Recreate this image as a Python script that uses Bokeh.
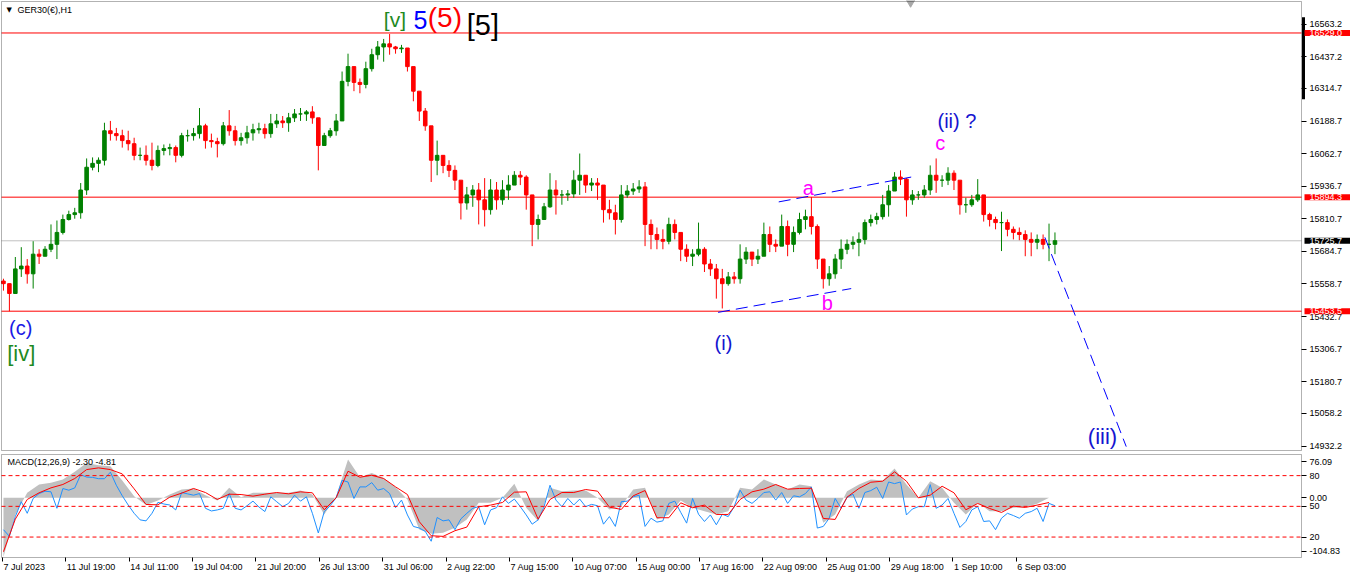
from bokeh.plotting import figure
from bokeh.layouts import column
from bokeh.models import (Range1d, FixedTicker, Label, ColumnDataSource, LinearAxis,
                          BoxAnnotation)
from bokeh.embed import file_html
from bokeh.resources import INLINE

# ---------------- data (GER30 H1, one bar ~ every few hours) ----------------
closes = [
    15560, 15522, 15617, 15628, 15598, 15674, 15666, 15693, 15712, 15758,
    15808, 15827, 15834, 15922, 16010, 16025, 16037, 16151, 16140, 16132,
    16113, 16101, 16056, 16056, 16037, 16017, 16075, 16082, 16086, 16056,
    16132, 16132, 16140, 16170, 16113, 16109, 16101, 16170, 16151, 16113,
    16124, 16143, 16155, 16159, 16140, 16178, 16189, 16182, 16201, 16216,
    16216, 16224, 16201, 16094, 16132, 16151, 16189, 16342, 16399, 16338,
    16330, 16391, 16445, 16475, 16487, 16475, 16468, 16471, 16399, 16304,
    16227, 16170, 16037, 16056, 16017, 15998, 15960, 15872, 15903, 15922,
    15884, 15846, 15922, 15884, 15922, 15941, 15979, 15972, 15903, 15789,
    15808, 15857, 15922, 15903, 15903, 15907, 15960, 15979, 15941, 15949,
    15941, 15846, 15834, 15808, 15903, 15918, 15926, 15934, 15789, 15750,
    15731, 15724, 15789, 15758, 15693, 15666, 15674, 15693, 15636, 15617,
    15579, 15560, 15586, 15579, 15655, 15682, 15655, 15666, 15750, 15712,
    15705, 15781, 15712, 15758, 15808, 15819, 15781, 15655, 15579, 15598,
    15655, 15693, 15712, 15720, 15731, 15796, 15808, 15819, 15865, 15918,
    15972, 15964, 15884, 15903, 15903, 15922, 15979, 15960, 15960, 15987,
    15960, 15865, 15865, 15884, 15903, 15827, 15808, 15796, 15796, 15770,
    15758, 15750, 15731, 15720, 15731, 15712, 15712, 15726]
highs = [
    15579, 15560, 15663, 15701, 15655, 15724, 15693, 15705, 15789, 15804,
    15827, 15842, 15853, 15949, 16044, 16048, 16048, 16182, 16189, 16162,
    16155, 16151, 16124, 16086, 16094, 16105, 16094, 16098, 16101, 16094,
    16143, 16155, 16162, 16239, 16178, 16140, 16124, 16185, 16231, 16170,
    16143, 16170, 16178, 16182, 16178, 16216, 16216, 16208, 16220, 16235,
    16239, 16231, 16246, 16189, 16143, 16162, 16216, 16380, 16449, 16361,
    16353, 16418, 16468, 16498, 16506, 16525, 16479, 16483, 16468, 16380,
    16265, 16239, 16151, 16113, 16056, 16037, 16017, 15941, 15934, 15941,
    15949, 15968, 15964, 15953, 15960, 15979, 15995, 15995, 15979, 15903,
    15827, 15872, 15987, 15960, 15922, 15922, 15998, 16063, 15979, 15968,
    15968, 15922, 15884, 15865, 15941, 15941, 15949, 15960, 15953, 15808,
    15777, 15770, 15815, 15808, 15750, 15712, 15693, 15796, 15701, 15655,
    15636, 15617, 15605, 15605, 15712, 15701, 15666, 15693, 15796, 15781,
    15731, 15827, 15804, 15781, 15834, 15846, 15895, 15789, 15644, 15628,
    15674, 15731, 15731, 15743, 15758, 15808, 15827, 15834, 15903, 15941,
    15991, 15998, 15968, 15922, 15918, 15941, 16017, 16044, 15979, 16010,
    15998, 15941, 15892, 15903, 15964, 15903, 15834, 15819, 15838, 15808,
    15781, 15777, 15766, 15758, 15750, 15750, 15792, 15758]
lows = [
    15533, 15453, 15522, 15586, 15560, 15541, 15636, 15666, 15682, 15655,
    15750, 15804, 15811, 15811, 15903, 15998, 15991, 16017, 16113, 16113,
    16086, 16075, 16037, 16037, 16017, 15998, 16010, 16056, 16056, 16029,
    16048, 16109, 16113, 16121, 16082, 16086, 16048, 16094, 16132, 16094,
    16094, 16101, 16113, 16140, 16121, 16124, 16162, 16162, 16147, 16185,
    16189, 16189, 16178, 15998, 16094, 16124, 16132, 16201, 16323, 16304,
    16296, 16315, 16380, 16426, 16418, 16445, 16449, 16452, 16380, 16265,
    16189, 16151, 15953, 15979, 15987, 15972, 15922, 15808, 15846, 15857,
    15789, 15781, 15827, 15846, 15865, 15884, 15941, 15941, 15846, 15705,
    15731, 15808, 15853, 15827, 15865, 15880, 15892, 15903, 15911, 15918,
    15884, 15796, 15808, 15750, 15796, 15892, 15903, 15911, 15705, 15693,
    15693, 15693, 15712, 15731, 15647, 15644, 15628, 15666, 15605, 15590,
    15502, 15464, 15552, 15560, 15560, 15636, 15628, 15636, 15674, 15682,
    15682, 15712, 15666, 15682, 15750, 15770, 15750, 15617, 15541, 15552,
    15579, 15617, 15674, 15693, 15666, 15712, 15781, 15789, 15808, 15819,
    15934, 15941, 15819, 15865, 15884, 15892, 15903, 15911, 15934, 15941,
    15922, 15827, 15834, 15857, 15876, 15800, 15781, 15770, 15686, 15743,
    15731, 15728, 15666, 15666, 15693, 15693, 15647, 15674]
first_open = 15570

# MACD histogram (grey) and signal (red), sampled every second bar
macd_hist = [
    -104.0, -29.2, 8.8, 23.4, 26.3, 32.1, 45.6, 61.3, 57.2, 55.5,
    30.4, 2.9, -12.8, -4.7, 5.8, 14.6, 16.4, 4.7, -4.7, 17.5,
    1.2, 8.8, 8.8, 8.8, 8.8, 12.8, 5.8, -29.2, 2.9, 67.2,
    36.2, 43.8, 35.0, 18.7, -2.9, -55.5, -63.1, -61.3, -52.6, -38.0,
    -8.8, -8.8, 0.0, 24.5, -17.5, -40.9, 17.5, 11.7, 12.8, 12.8,
    0.0, -20.4, -14.6, 14.6, 17.5, -38.0, -29.2, -4.7, -17.5, -23.4,
    -29.2, -23.4, 17.5, 14.6, 32.1, 23.4, 14.6, 23.4, 20.4, -43.8,
    -29.2, 11.7, 23.4, 32.1, 30.4, 51.4, 23.4, 0.0, 29.2, 17.5,
    -8.8, -29.2, -8.8, -23.4, -23.4, -17.5, -16.4, -10.5, 0.0]
macd_signal = [
    -94.6, -37.4, -2.9, 8.8, 17.5, 23.4, 33.9, 49.6, 52.6, 49.6,
    42.0, 15.8, -11.7, -12.3, 1.2, 8.2, 16.4, 9.3, -2.9, 6.4,
    5.8, 2.9, 6.4, 9.3, 7.0, 10.5, 8.8, -21.0, 0.0, 46.7,
    36.2, 39.7, 33.9, 19.3, 5.8, -42.0, -66.6, -67.7, -57.8, -51.4,
    -15.8, -12.8, -8.2, 9.9, 10.5, -37.4, -2.9, 9.3, 9.3, 14.6,
    11.7, -16.4, -20.4, 3.5, 12.8, -35.0, -35.0, -8.8, -17.5, -12.8,
    -29.2, -29.2, -2.9, 10.5, 15.2, 23.4, 15.2, 16.4, 16.9, -36.2,
    -38.0, 1.2, 16.4, 27.4, 29.2, 45.6, 29.2, 0.0, 4.7, 20.4,
    8.8, -21.0, -9.9, -18.7, -25.7, -14.6, -16.9, -12.8, -8.2]
# blue 0-100 oscillator, one value per bar
osc = [
    27.2, 20.7, 40.0, 54.5, 43.2, 57.7, 62.5, 64.8, 64.2, 48.1,
    67.4, 65.8, 68.0, 80.9, 78.6, 78.3, 77.0, 77.0, 83.4, 70.6,
    60.3, 51.3, 43.2, 36.8, 35.8, 43.2, 53.9, 52.3, 51.3, 46.5,
    63.5, 62.2, 60.9, 62.5, 48.1, 45.5, 46.5, 48.1, 62.5, 48.1,
    46.5, 50.6, 55.1, 49.4, 44.9, 59.3, 54.5, 49.7, 52.9, 60.9,
    55.1, 59.3, 43.2, 24.0, 44.9, 50.6, 58.4, 75.4, 73.8, 57.7,
    69.0, 69.0, 73.2, 65.8, 67.4, 62.5, 48.7, 56.1, 41.6, 30.4,
    28.8, 25.6, 15.9, 39.1, 35.8, 36.8, 27.2, 37.8, 43.2, 48.1,
    49.7, 32.0, 46.5, 48.7, 59.3, 52.9, 57.1, 49.7, 41.6, 32.6,
    36.8, 49.7, 70.6, 56.1, 49.7, 57.7, 51.3, 57.1, 49.7, 51.9,
    50.6, 32.6, 40.0, 30.4, 54.5, 55.1, 59.3, 60.9, 30.4, 38.4,
    34.6, 35.8, 52.9, 55.1, 44.2, 33.6, 57.7, 42.3, 35.2, 41.6,
    32.0, 42.3, 40.0, 49.7, 65.8, 56.1, 52.9, 57.7, 63.5, 64.2,
    56.1, 63.5, 52.9, 60.3, 59.3, 62.5, 69.0, 28.8, 30.4, 38.4,
    57.7, 48.1, 58.7, 61.9, 48.1, 63.5, 65.4, 68.7, 57.7, 73.8,
    72.2, 73.8, 41.6, 47.4, 49.7, 49.7, 71.2, 48.1, 51.3, 57.7,
    43.2, 29.4, 35.2, 46.5, 49.7, 35.2, 35.8, 27.2, 38.4, 43.2,
    41.0, 38.4, 43.2, 44.9, 48.1, 35.2, 52.9, 50.6]

price_ticks = [16563.2, 16437.2, 16314.7, 16188.7, 16062.7, 15936.7, 15810.7,
               15684.7, 15558.7, 15432.7, 15306.7, 15180.7, 15058.2, 14932.2]
date_labels = ["7 Jul 2023", "11 Jul 19:00", "14 Jul 11:00", "19 Jul 04:00", "21 Jul 20:00",
               "26 Jul 13:00", "31 Jul 06:00", "2 Aug 22:00", "7 Aug 15:00", "10 Aug 07:00",
               "15 Aug 00:00", "17 Aug 16:00", "22 Aug 09:00", "25 Aug 01:00", "29 Aug 18:00",
               "1 Sep 10:00", "6 Sep 03:00"]
date_tick_pos = [-0.17, 10.5, 21.17, 31.83, 42.5, 53.17, 63.83, 74.5, 85.17, 95.83,
                 106.5, 117.17, 127.83, 138.5, 149.17, 159.83, 170.5]
level_prices = [16529.0, 15894.3, 15453.5]
last_price = 15725.7
osc_levels = [80, 50, 20]

# Elliott wave annotations: text, bar position, price, colour, font px
wave_text = ["[v]", "5", "(5)", "[5]", "(c)", "[iv]", "(i)", "a", "b", "c", "(ii) ?", "(iii)"]
wave_x = [65.9, 70.2, 74.3, 80.7, 2.9, 3.0, 121.2, 135.5, 138.7, 157.7, 160.5, 185.0]
wave_y = [16580, 16578, 16588, 16561, 15390, 15289, 15331, 15930, 15487, 16105, 16189, 14970]
wave_color = ["#1f8a1f", "#0000ff", "#ff0000", "#000000", "#1a1ae6", "#1f8a1f",
              "#1515d0", "#ff00ff", "#ff00ff", "#ff00ff", "#1515d0", "#1515d0"]
wave_size = [21, 25, 28, 29, 20, 22, 20, 20, 20, 20, 20, 22]

# dashed wave channel / projection lines (bar position, price)
trend_x = [[120.3, 142.7], [130.5, 152.8], [175.3, 189.0]]
trend_y = [[15449, 15541], [15876, 15972], [15739, 14930]]

# terminal decorations: chart-shift marker (bar position) and scale-drag bar (price span)
shift_marker_bar = 152.7
scale_bar_prices = [16590, 16273]

# ---------------- layout constants ----------------
X0, X1 = -0.33, 218.5          # bar-position extent of the chart area
P_LO, P_HI = 14915.0, 16650.7  # price extent of the chart area
M_LO, M_HI = -104.83, 76.09    # MACD extent
O_LO, O_HI = 0.03, 100.65      # oscillator extent
W = 1350
AXW = 49                        # width of the price scale on the right
MAIN_H, MAIN_TOP, MAIN_BOT = 452, 1, 2
SUB_H, SUB_TOP, SUB_BOT = 120, 2, 15
FONT = "Liberation Sans"
GREEN, RED = "#008000", "#ff0000"

s = (W - AXW - 1) / (X1 - X0)   # pixels per bar
x_range = Range1d(X0 - 1 / s, X0 + (W - 1) / s)

uP = (P_HI - P_LO) / (MAIN_H - MAIN_TOP - MAIN_BOT)
uM = (M_HI - M_LO) / (SUB_H - SUB_TOP - SUB_BOT)
uO = (O_HI - O_LO) / (SUB_H - SUB_TOP - SUB_BOT)

n = len(closes)
idx = list(range(n))
opens = [first_open] + closes[:-1]
colors = [GREEN if c >= o else RED for o, c in zip(opens, closes)]
src = ColumnDataSource(dict(
    x=idx, h=highs, l=lows,
    top=[max(o, c) for o, c in zip(opens, closes)],
    bot=[min(o, c) for o, c in zip(opens, closes)],
    col=colors))


def style_fig(f):
    f.grid.visible = False
    f.outline_line_color = None
    f.background_fill_color = "white"
    f.border_fill_color = "white"


def style_axis(a):
    a.major_label_text_font = FONT
    a.major_label_text_font_size = "9px"
    a.major_label_text_color = "black"
    a.major_tick_out = 5
    a.major_tick_in = 0
    a.major_tick_line_color = "black"
    a.minor_tick_line_color = None
    a.major_label_standoff = 3
    a.axis_line_color = None


# ---------------- main price panel ----------------
p = figure(width=W, height=MAIN_H, x_range=x_range,
           y_range=Range1d(P_LO - MAIN_BOT * uP, P_HI + MAIN_TOP * uP),
           x_axis_location=None, y_axis_location=None,
           output_backend="svg", toolbar_location=None,
           min_border_left=0, min_border_right=0, min_border_top=0, min_border_bottom=0)
style_fig(p)

ya = LinearAxis(fixed_location=X1, ticker=FixedTicker(ticks=price_ticks))
ya.major_label_overrides = {t: f"{t:.1f}" for t in price_ticks}
style_axis(ya)
p.add_layout(ya, "right")

p.add_layout(BoxAnnotation(left=X0, right=X1, bottom=P_LO, top=P_HI, fill_alpha=0,
                           line_color="black", line_width=1))

p.segment(x0=[X0] * len(level_prices), x1=[X1] * len(level_prices),
          y0=level_prices, y1=level_prices, line_color=RED, line_width=1)
p.segment(x0=[X0], x1=[X1], y0=[last_price], y1=[last_price], line_color="#c0c0c0", line_width=1)

p.segment(x0="x", y0="l", x1="x", y1="h", line_color="col", line_width=1, source=src)
p.vbar(x="x", top="top", bottom="bot", width=0.6, fill_color="col", line_color="col", source=src)

p.multi_line(xs=trend_x, ys=trend_y, line_color="#0000ff", line_width=1, line_dash="12 6")

for t, x, y, col, sz in zip(wave_text, wave_x, wave_y, wave_color, wave_size):
    p.add_layout(Label(x=x, y=y, text=t, text_color=col, text_font=FONT,
                       text_font_size=f"{sz}px", text_align="center", text_baseline="middle"))

# terminal decorations
p.scatter(x=[shift_marker_bar], y=[P_HI], marker="inverted_triangle", size=10,
          fill_color="#a8a8a8", line_color="#a8a8a8")
p.segment(x0=[X1 + 2 / s], x1=[X1 + 2 / s], y0=[scale_bar_prices[0]], y1=[scale_bar_prices[1]],
          line_color="black", line_width=3)

# price boxes on the scale
box_pad = dict(left=5, right=12, top=0, bottom=0)
for lv in level_prices:
    p.add_layout(Label(x=X1, y=lv, x_offset=3, text=f"{lv:.1f}", text_color="white",
                       text_font=FONT, text_font_size="9px", text_align="left",
                       text_baseline="middle", background_fill_color=RED, padding=box_pad))
p.add_layout(Label(x=X1, y=last_price, x_offset=3, text=f"{last_price:.1f}", text_color="white",
                   text_font=FONT, text_font_size="9px", text_align="left",
                   text_baseline="middle", background_fill_color="black", padding=box_pad))

# symbol caption
p.add_layout(Label(x=X0, y=P_HI, x_offset=5, y_offset=-8, text="\u25bc", text_color="black",
                   text_font="DejaVu Sans", text_font_size="7px", text_baseline="middle"))
p.add_layout(Label(x=X0, y=P_HI, x_offset=16, y_offset=-8, text="GER30(\u20ac),H1",
                   text_color="black", text_font=FONT, text_font_size="9px",
                   text_baseline="middle"))

# ---------------- MACD panel ----------------
q = figure(width=W, height=SUB_H, x_range=x_range,
           y_range=Range1d(M_LO - SUB_BOT * uM, M_HI + SUB_TOP * uM),
           x_axis_location=None, y_axis_location=None,
           output_backend="svg", toolbar_location=None,
           min_border_left=0, min_border_right=0, min_border_top=0, min_border_bottom=0)
style_fig(q)
q.extra_y_ranges = {"osc": Range1d(O_LO - SUB_BOT * uO, O_HI + SUB_TOP * uO)}

hist_x = idx[0::2]
q.varea(x=hist_x, y1=[0] * len(macd_hist), y2=macd_hist, fill_color="#c0c0c0")
q.line(x=idx, y=osc, y_range_name="osc", line_color="#1e90ff", line_width=1)
q.line(x=hist_x, y=macd_signal, line_color=RED, line_width=1)
q.segment(x0=[X0] * len(osc_levels), x1=[X1] * len(osc_levels), y0=osc_levels, y1=osc_levels,
          y_range_name="osc", line_color=RED, line_width=1, line_dash="4 3")

q.add_layout(BoxAnnotation(left=X0, right=X1, bottom=M_LO, top=M_HI, fill_alpha=0,
                           line_color="black", line_width=1))


def osc_to_macd(v):
    return M_LO + (v - O_LO) / (O_HI - O_LO) * (M_HI - M_LO)


m_ticks = [round(M_HI - 12.3, 2), round(osc_to_macd(80), 2), 0.0,
           round(osc_to_macd(50), 2), round(osc_to_macd(20), 2), round(M_LO + 11.0, 2)]
m_text = [f"{M_HI:.2f}", "80", "0.00", "50", "20", f"{M_LO:.2f}"]
qa = LinearAxis(fixed_location=X1, ticker=FixedTicker(ticks=m_ticks))
qa.major_label_overrides = {t: s_ for t, s_ in zip(m_ticks, m_text)}
style_axis(qa)
q.add_layout(qa, "right")

xa = LinearAxis(fixed_location=M_LO, ticker=FixedTicker(ticks=date_tick_pos))
style_axis(xa)
xa.major_tick_out = 4
xa.major_label_text_color = None
q.add_layout(xa, "below")

for t, x in zip(date_labels, date_tick_pos):
    q.add_layout(Label(x=x, y=M_LO, x_offset=1, y_offset=-4, text=t, text_color="black",
                       text_font=FONT, text_font_size="9px", text_align="left",
                       text_baseline="top"))

q.add_layout(Label(x=X0, y=M_HI, x_offset=6, y_offset=-7, text="MACD(12,26,9) -2.30 -4.81",
                   text_color="black", text_font=FONT, text_font_size="9px",
                   text_baseline="middle"))

layout = column(p, q, spacing=0)
open("out.html", "w").write(file_html(layout, INLINE))
